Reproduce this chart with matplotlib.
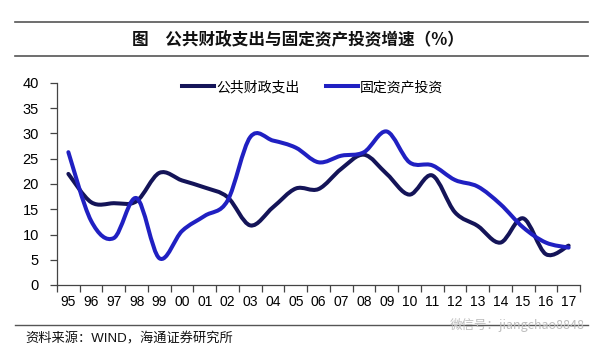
import matplotlib
matplotlib.use("Agg")
import matplotlib.pyplot as plt
from matplotlib.path import Path
from matplotlib.patches import PathPatch
from matplotlib.lines import Line2D
import numpy as np

# ─── data (%) ───────────────────────────────────────────────────────────────
years = ["95", "96", "97", "98", "99", "00", "01", "02", "03", "04", "05", "06",
         "07", "08", "09", "10", "11", "12", "13", "14", "15", "16", "17"]
fiscal_spending = [22.0, 16.4, 16.2, 16.6, 22.2, 20.7, 19.3, 17.4, 11.8, 15.4, 19.1, 19.0,
                   23.0, 25.8, 22.0, 17.9, 21.7, 14.4, 11.7, 8.4, 13.2, 6.1, 7.8]
fixed_asset_inv = [26.3, 12.7, 9.3, 17.2, 5.3, 10.7, 13.7, 16.7, 29.3, 28.6, 27.2, 24.3,
                   25.6, 26.3, 30.4, 24.3, 23.7, 20.8, 19.5, 16.0, 11.4, 8.4, 7.4]
series_names = ["公共财政支出", "固定资产投资"]
y_ticks = [0, 5, 10, 15, 20, 25, 30, 35, 40]

NAVY = "#141458"
BLUE = "#2020c2"
LW = 2.9
CJK = ["Noto Sans CJK SC", "DejaVu Sans"]
LATIN = ["Liberation Sans", "Noto Sans CJK SC"]


def smooth_path(xs, ys):
    """Excel-style smoothed line: Catmull-Rom segments as cubic Beziers."""
    pts = np.column_stack([xs, ys]).astype(float)
    n = len(pts)
    verts = [pts[0]]
    codes = [Path.MOVETO]
    for i in range(n - 1):
        p0 = pts[i - 1] if i > 0 else pts[i]
        p1, p2 = pts[i], pts[i + 1]
        p3 = pts[i + 2] if i + 2 < n else pts[i + 1]
        c1 = p1 + (p2 - p0) / 6.0
        c2 = p2 - (p3 - p1) / 6.0
        verts += [c1, c2, p2]
        codes += [Path.CURVE4] * 3
    return Path(verts, codes)


fig = plt.figure(figsize=(6.0, 3.54), dpi=100)
ax = fig.add_axes([57 / 600, 1 - 285 / 354, 523 / 600, 202 / 354])

x = np.arange(len(years))
for vals, color in [(fiscal_spending, NAVY), (fixed_asset_inv, BLUE)]:
    ax.add_patch(PathPatch(smooth_path(x, vals), facecolor="none", edgecolor=color,
                           lw=LW, capstyle="round", joinstyle="round"))

ax.set_xlim(-0.5, len(years) - 0.5)
ax.set_ylim(0, 40)

# category axis: tick marks between categories, labels in the middle
ax.set_xticks(np.arange(-0.5, len(years), 1.0))
ax.set_xticklabels([])
ax.set_xticks(x, minor=True)
ax.set_xticklabels(years, minor=True, fontsize=10, family=LATIN)
ax.tick_params(axis="x", which="major", direction="out", length=5, width=0.9, color="#444444")
ax.tick_params(axis="x", which="minor", length=0, pad=7)

ax.set_yticks(y_ticks)
ax.set_yticklabels([str(v) for v in y_ticks], fontsize=10.5, family=LATIN)
ax.tick_params(axis="y", direction="out", length=5, width=0.9, color="#444444", pad=8)

for side in ["top", "right"]:
    ax.spines[side].set_visible(False)
for side in ["left", "bottom"]:
    ax.spines[side].set_color("#444444")
    ax.spines[side].set_linewidth(0.9)

handles = [Line2D([], [], color=NAVY, lw=LW), Line2D([], [], color=BLUE, lw=LW)]
fig.legend(handles, series_names, loc="center left", bbox_to_anchor=(182 / 600, 1 - 87 / 354),
           ncol=2, frameon=False, borderpad=0, borderaxespad=0, handlelength=2.3,
           handletextpad=0.15, columnspacing=1.9, prop={"family": CJK, "size": 10})

# title block with rules above and below
fig.add_artist(Line2D([15 / 600, 588 / 600], [1 - 21.7 / 354] * 2, color="#555555", lw=1.2))
fig.add_artist(Line2D([15 / 600, 588 / 600], [1 - 55.7 / 354] * 2, color="#555555", lw=1.2))
fig.text(297.5 / 600, 1 - 40 / 354, "图　公共财政支出与固定资产投资增速（%）", ha="center",
         va="center", fontsize=12, fontweight="semibold", family=CJK, color="#111111")

# source line
fig.add_artist(Line2D([15 / 600, 588 / 600], [1 - 325 / 354] * 2, color="#555555", lw=1.0))
fig.text(25 / 600, 1 - 339 / 354, "资料来源：WIND，海通证券研究所", ha="left", va="center",
         fontsize=9.5, family=LATIN, color="#111111")
fig.text(585 / 600, 1 - 325 / 354, "微信号：jiangchao8848", ha="right", va="center",
         fontsize=9, family=CJK, color="#bdbdbd")

fig.savefig("out.png", dpi=100, facecolor="white")
